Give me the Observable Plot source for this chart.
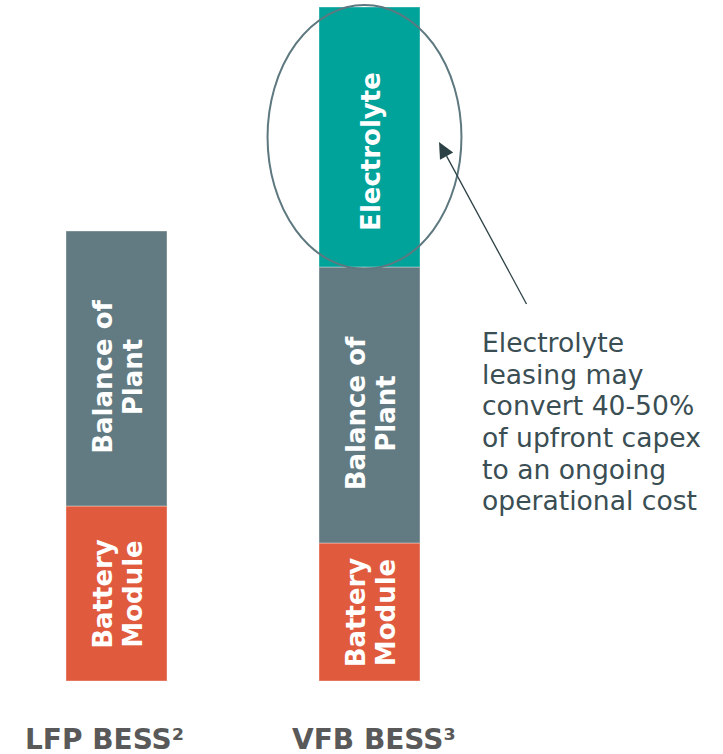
<!DOCTYPE html>
<html>
<head>
<meta charset="utf-8">
<script src="https://cdn.jsdelivr.net/npm/d3@7"></script>
<script src="https://cdn.jsdelivr.net/npm/@observablehq/plot@0.6"></script>
<style>
  html, body { margin: 0; padding: 0; background: #fff; }
  svg { display: block; }
</style>
</head>
<body>
<div id="chart"></div>
<script>
// ---- data ----
const systems = ["LFP BESS", "VFB BESS"];
const systemLabels = ["LFP BESS\u00B2", "VFB BESS\u00B3"];
const components = ["Battery Module", "Balance of Plant", "Electrolyte"];
const componentLabels = ["Battery\nModule", "Balance of\nPlant", "Electrolyte"];
// relative capex (arbitrary units)
const lfpValues = [175, 275, 0];
const vfbValues = [138, 276, 260];
const noteText = "Electrolyte\nleasing may\nconvert 40-50%\nof upfront capex\nto an ongoing\noperational cost";

// ---- styles ----
const colors = ["#e05a3e", "#627b82", "#00a39a"];
const W = 723, H = 754;

const rows = [];
systems.forEach((s, i) => {
  const vals = i === 0 ? lfpValues : vfbValues;
  components.forEach((c, j) => {
    if (vals[j] > 0) rows.push({system: s, component: c, value: vals[j], label: componentLabels[j]});
  });
});

const labelFont = "DejaVu Sans, Verdana, sans-serif";
const barText = (comp, dy) => Plot.text(rows, Plot.filter(d => d.component === comp, Plot.stackY({
  x: "system", y: "value", text: "label",
  rotate: -90, fill: "white", fontWeight: "bold", fontSize: 26,
  lineHeight: 1.16, textAnchor: "middle", lineAnchor: "middle", dy
})));

const chart = Plot.plot({
  width: W,
  height: H,
  marginTop: 7,
  marginBottom: 73,
  marginLeft: 0,
  marginRight: 0,
  style: {fontFamily: labelFont, background: "#fff"},
  x: {domain: systems, range: [66, 421], paddingInner: 0.6, paddingOuter: 0, axis: null},
  y: {domain: [0, 674], axis: null},
  color: {domain: components, range: colors},
  marks: [
    Plot.barY(rows, {x: "system", y: "value", fill: "component", stroke: "#ffffff", strokeOpacity: 0.45, strokeWidth: 0.8}),
    barText("Battery Module", 0),
    barText("Balance of Plant", 8),
    barText("Electrolyte", 14),
    Plot.text([systems[0]], {x: d => d, frameAnchor: "bottom", text: () => systemLabels[0],
      textAnchor: "start", lineAnchor: "bottom", dx: -92, dy: 67,
      fontSize: 28, fontWeight: "bold", fill: "#595959"}),
    Plot.text([systems[1]], {x: d => d, frameAnchor: "bottom", text: () => systemLabels[1],
      textAnchor: "start", lineAnchor: "bottom", dx: -78, dy: 67,
      fontSize: 28, fontWeight: "bold", fill: "#595959"}),
    Plot.text([noteText], {x: () => systems[1], y: () => 352, text: d => d,
      textAnchor: "start", lineAnchor: "top", dx: 112, lineHeight: 1.19,
      fontSize: 26.6, fill: "#3a4e53"})
  ]
});

document.getElementById("chart").appendChild(chart);

// ---- annotation: ellipse around electrolyte + arrow, derived from scales ----
const sx = chart.scale("x"), sy = chart.scale("y");
const bw = sx.bandwidth;
const vx0 = sx.apply(systems[1]);
const vcx = vx0 + bw / 2;
const eBottom = sy.apply(vfbValues[0] + vfbValues[1]);
const eTop = sy.apply(vfbValues[0] + vfbValues[1] + vfbValues[2]);
const eMid = (eTop + eBottom) / 2;
const svg = d3.select(chart);
svg.append("ellipse")
  .attr("cx", vcx - 5).attr("cy", eMid)
  .attr("rx", bw * 0.96).attr("ry", (eBottom - eTop) / 2 + 2)
  .attr("fill", "none").attr("stroke", "#5e7880").attr("stroke-width", 2);

const tip = [vx0 + bw + 19, eMid + 5];
const noteX = vcx + 112, noteTop = sy.apply(346);
const tail = [noteX + 45, noteTop - 31];
const ang = Math.atan2(tail[1] - tip[1], tail[0] - tip[0]);
const hl = 16, hw = 7.5;
const bx = tip[0] + hl * Math.cos(ang), by = tip[1] + hl * Math.sin(ang);
svg.append("line")
  .attr("x1", tail[0]).attr("y1", tail[1]).attr("x2", bx).attr("y2", by)
  .attr("stroke", "#2c4146").attr("stroke-width", 1.3);
svg.append("path")
  .attr("d", `M${tip[0]},${tip[1]}L${bx + hw * Math.sin(ang)},${by - hw * Math.cos(ang)}L${bx - hw * Math.sin(ang)},${by + hw * Math.cos(ang)}Z`)
  .attr("fill", "#2c4146");
</script>
</body>
</html>
